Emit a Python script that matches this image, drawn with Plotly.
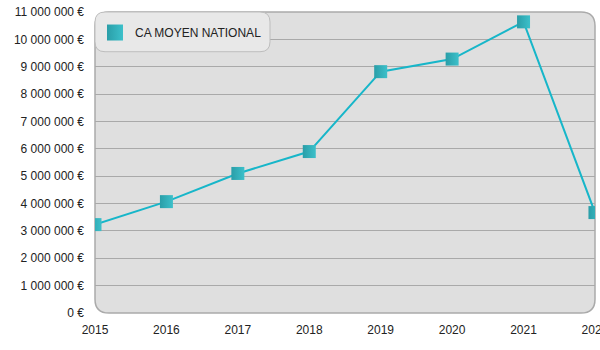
import plotly.graph_objects as go

years = [2015, 2016, 2017, 2018, 2019, 2020, 2021, 2022]
ca_moyen = [3230000, 4070000, 5100000, 5900000, 8820000, 9280000, 10640000, 3670000]
series_name = "CA MOYEN NATIONAL"

marker_style = dict(symbol="square", size=13, color="#2a9ea8",
                    gradient=dict(type="horizontal", color="#3cc0ca"),
                    line=dict(width=0))

fig = go.Figure()
fig.add_trace(go.Scatter(
    x=years, y=ca_moyen, name=series_name, mode="lines+markers",
    line=dict(color="#17b6c9", width=2),
    marker=marker_style, cliponaxis=True, showlegend=False,
))
# legend entry (square only)
fig.add_trace(go.Scatter(
    x=[None], y=[None], name=series_name, mode="markers",
    marker=dict(marker_style, size=18), showlegend=True,
))

# rounded plot-area background
rx, ry = 0.028, 0.046
bg_path = (f"M 0,{ry} L 0,{1-ry} Q 0,1 {rx},1 L {1-rx},1 Q 1,1 1,{1-ry} "
           f"L 1,{ry} Q 1,0 {1-rx},0 L {rx},0 Q 0,0 0,{ry} Z")
fig.add_shape(type="path", path=bg_path, xref="paper", yref="paper",
              fillcolor="#dfdfdf", line=dict(color="#aaaaaa", width=1.5), layer="below")

# legend box
lx1, ly0 = 0.35, 0.868
lrx, lry = 0.02, 0.033
leg_path = (f"M 0,{ly0+lry} L 0,{1-lry} Q 0,1 {lrx},1 L {lx1-lrx},1 Q {lx1},1 {lx1},{1-lry} "
            f"L {lx1},{ly0+lry} Q {lx1},{ly0} {lx1-lrx},{ly0} L {lrx},{ly0} Q 0,{ly0} 0,{ly0+lry} Z")
fig.add_shape(type="path", path=leg_path, xref="paper", yref="paper",
              fillcolor="#e8e8e8", line=dict(color="#bdbdbd", width=1), layer="above")

fig.update_layout(
    width=600, height=350,
    margin=dict(l=95, r=5, t=12, b=37, autoexpand=False),
    paper_bgcolor="white", plot_bgcolor="rgba(0,0,0,0)",
    separators=", ",
    font=dict(family="Liberation Sans, Arial", size=12, color="#222"),
    showlegend=True,
    legend=dict(x=0.0, y=0.98, xanchor="left", yanchor="top",
                bgcolor="rgba(0,0,0,0)", font=dict(size=12, color="#222"),
                itemsizing="trace"),
    xaxis=dict(range=[2015, 2022.0005], tickvals=years, showgrid=False, zeroline=False,
               showline=False, ticks="", ticklabelstandoff=8, ticklabeloverflow="allow",
               automargin=False),
    yaxis=dict(range=[0, 11000000], dtick=1000000, tickformat=",d", ticksuffix=" €",
               showgrid=True, gridcolor="#a9a9a9", gridwidth=1, zeroline=False,
               showline=False, ticks="", ticklabelstandoff=10, automargin=False),
)

fig.write_html("out.html")
